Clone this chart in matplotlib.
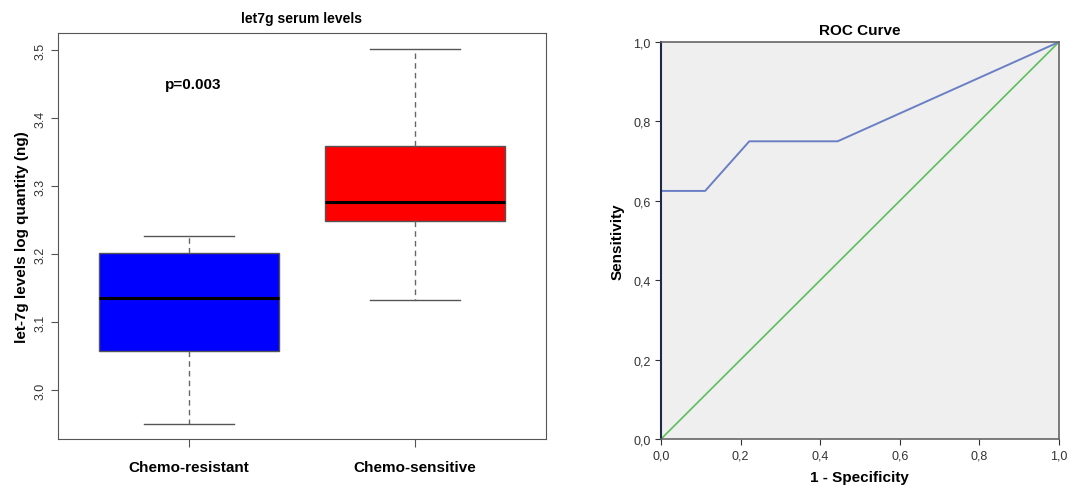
import matplotlib.pyplot as plt
from matplotlib.ticker import FuncFormatter

plt.rcParams['font.family'] = ['Liberation Sans', 'DejaVu Sans']

# box plot summary
groups = ['Chemo-resistant', 'Chemo-sensitive']
whislo = [2.950, 3.133]
q1 = [3.057, 3.249]
med = [3.136, 3.277]
q3 = [3.202, 3.359]
whishi = [3.226, 3.502]
box_colors = ['#0000ff', '#ff0000']

# ROC curve points
fpr = [0.0, 0.0, 0.111, 0.222, 0.444, 1.0]
tpr = [0.0, 0.625, 0.625, 0.75, 0.75, 1.0]
ref_line = [0.0, 1.0]

fig = plt.figure(figsize=(10.77, 4.89), dpi=100)

# left: box plot
ax1 = fig.add_axes([0.0539, 0.100, 0.453, 0.8303])
stats = []
for i in range(2):
    stats.append({'whislo': whislo[i], 'q1': q1[i], 'med': med[i],
                  'q3': q3[i], 'whishi': whishi[i], 'fliers': []})
bp = ax1.bxp(stats, positions=[1, 2], widths=0.8, patch_artist=True,
             showfliers=False,
             boxprops=dict(edgecolor='#555555', linewidth=1),
             medianprops=dict(color='black', linewidth=2.2),
             whiskerprops=dict(color='#666666', linestyle=(0, (4, 3)), linewidth=1),
             capprops=dict(color='#555555', linewidth=1),
             capwidths=0.4)
for patch, c in zip(bp['boxes'], box_colors):
    patch.set_facecolor(c)
ax1.set_xlim(0.42, 2.58)
ax1.set_ylim(2.928, 3.525)
ax1.set_yticks([3.0, 3.1, 3.2, 3.3, 3.4, 3.5])
ax1.set_yticklabels(['3.0', '3.1', '3.2', '3.3', '3.4', '3.5'], rotation=90,
                    va='center', fontsize=9, color='#333333')
ax1.set_xticks([1, 2])
ax1.set_xticklabels(groups, fontsize=11, fontweight='bold')
ax1.tick_params(axis='x', length=6, pad=9, color='#555555')
ax1.tick_params(axis='y', length=5, color='#555555')
for s in ax1.spines.values():
    s.set_color('#555555')
ax1.set_ylabel('let-7g levels log quantity (ng)', fontsize=11, fontweight='bold')
ax1.set_title('let7g serum levels', fontsize=10, fontweight='bold', pad=8)
ax1.text(1.02, 3.45, 'p=0.003', fontsize=11, fontweight='bold', ha='center', va='center')

# right: ROC curve
ax2 = fig.add_axes([0.6137, 0.100, 0.3695, 0.812])
ax2.set_facecolor('#efefef')
ax2.plot(ref_line, ref_line, color='#5cbf5c', linewidth=1.2)
ax2.plot(fpr, tpr, color='#6a7fc4', linewidth=1.4)
ax2.set_xlim(0, 1)
ax2.set_ylim(0, 1)
ticks = [0.0, 0.2, 0.4, 0.6, 0.8, 1.0]
ax2.set_xticks(ticks)
ax2.set_yticks(ticks)
fmt = FuncFormatter(lambda v, p: f'{v:.1f}'.replace('.', ','))
ax2.xaxis.set_major_formatter(fmt)
ax2.yaxis.set_major_formatter(fmt)
ax2.tick_params(labelsize=9, length=4, color='#333333', labelcolor='#333333')
ax2.spines['left'].set_color('#1f2a4a')
ax2.spines['left'].set_linewidth(1.5)
for s in ['top', 'right', 'bottom']:
    ax2.spines[s].set_color('#666666')
    ax2.spines[s].set_linewidth(1.2)
ax2.set_xlabel('1 - Specificity', fontsize=11, fontweight='bold', labelpad=6)
ax2.set_ylabel('Sensitivity', fontsize=11, fontweight='bold', labelpad=6)
ax2.set_title('ROC Curve', fontsize=11, fontweight='bold', pad=6)

fig.savefig('out.png', dpi=100)
